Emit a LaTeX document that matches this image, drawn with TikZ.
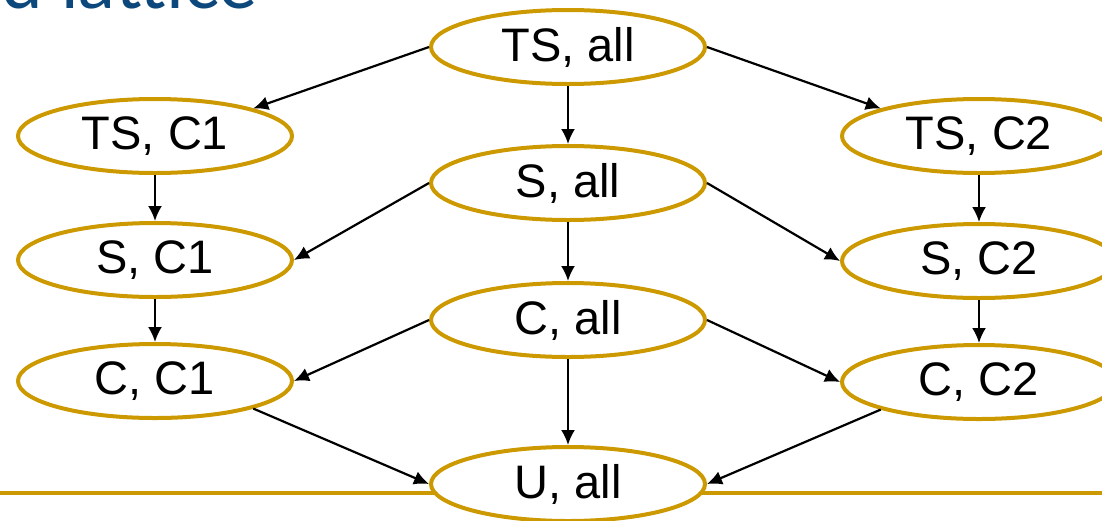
\documentclass[tikz,border=0pt]{standalone}
\usepackage{fontspec}
\setmainfont{Liberation Sans}
\newfontfamily\titlefont{Lato}
\usetikzlibrary{shapes.geometric, arrows.meta}
\definecolor{gold}{RGB}{204,153,0}
\definecolor{titleblue}{RGB}{12,72,124}

\begin{document}
\begin{tikzpicture}[x=1pt, y=-1pt,
  cell/.style={ellipse, draw=gold, line width=4pt, fill=white, minimum width=274pt, minimum height=74pt, inner sep=0pt, font=\fontsize{47}{47}\selectfont},
  link/.style={-{Latex[length=15pt,width=14pt]}, line width=2.2pt}]
\clip (0, 0) rectangle (1102, 520);
\node [anchor=base east, inner sep=0pt, text=titleblue, font=\titlefont\fontsize{74}{74}\selectfont] (title) at (258, 8) {d lattice};
\draw [gold, line width=4pt] (0, 493) -- (1102, 493);
% middle column
\node [cell] (tsall) at (568, 47) {TS, all};
\node [cell] (sall) at (568, 183) {S, all};
\node [cell] (call) at (568, 320) {C, all};
\node [cell] (uall) at (568, 484) {U, all};
% left column
\node [cell] (tsc1) at (155, 136) {TS, C1};
\node [cell] (sc1) at (155, 260) {S, C1};
\node [cell] (cc1) at (155, 381) {C, C1};
% right column
\node [cell] (tsc2) at (979, 136) {TS, C2};
\node [cell] (sc2) at (979, 261) {S, C2};
\node [cell] (cc2) at (979, 382) {C, C2};
% arrows
\foreach \a/\b in {tsall/sall, sall/call, call/uall, tsc1/sc1, sc1/cc1, tsc2/sc2, sc2/cc2}
  \draw [link] (\a) -- (\b);
\draw [link] (tsall.west) -- (tsc1.north east);
\draw [link] (tsall.east) -- (tsc2.north west);
\draw [link] (sall.west) -- (sc1.east);
\draw [link] (sall.east) -- (sc2.west);
\draw [link] (call.west) -- (cc1.east);
\draw [link] (call.east) -- (cc2.west);
\draw [link] (cc1.south east) -- (uall.west);
\draw [link] (cc2.south west) -- (uall.east);
\end{tikzpicture}
\end{document}
